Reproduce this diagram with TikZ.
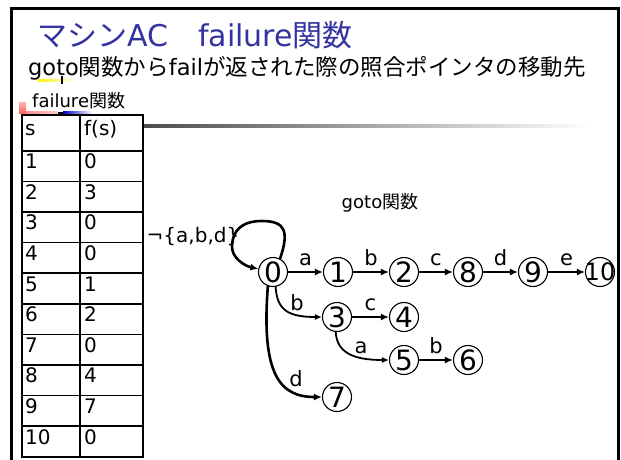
\documentclass[tikz,border=0pt]{standalone}
\usepackage{fontspec}
\setmainfont{DejaVu Sans}
\newfontfamily\jp{Noto Sans CJK JP}
\usetikzlibrary{arrows.meta}
\newcommand\J[1]{{\jp #1}}
\definecolor{titleblue}{RGB}{51,51,160}
\begin{document}
\begin{tikzpicture}[x=1pt,y=-1pt,
  st/.style={circle,draw,line width=1.1pt,minimum size=29pt,inner sep=0pt,font=\fontsize{28}{28}\selectfont},
  thk/.style={line width=2.6pt,-{Latex[length=8pt,width=7pt]}},
  thn/.style={line width=1.8pt,-{Latex[length=7pt,width=6pt]}},
  lbl/.style={font=\fontsize{21}{21}\selectfont,inner sep=0pt},
  cell/.style={anchor=mid west,font=\fontsize{20}{20}\selectfont,inner sep=0pt}]
\useasboundingbox (0,0) rectangle (621,459);
\fill[white] (0,0) rectangle (621,459);
% slide frame
\draw[line width=3pt] (11.5,470) -- (11.5,8.5) -- (618.5,8.5) -- (618.5,470);
% title texts
\node[anchor=base west,text=titleblue,font=\fontsize{30}{30}\selectfont,inner sep=0pt] (title) at (37,46) {\J{マシン}AC\J{　}failure\J{関数}};
\node[anchor=base west,font=\fontsize{22.5}{22.5}\selectfont,inner sep=0pt] (sub) at (28,75) {goto\J{関数から}fail\J{が返された際の照合ポインタの移動先}};
% bullet decorations
\fill[left color=yellow!90!orange,right color=white] (38,79.5) rectangle (75,81.5);
\draw[line width=1.2pt] (62,76) -- (62,84);
\fill[top color=red!30,bottom color=red!60!white] (19,102) rectangle (26,113);
\fill[left color=red!45,right color=white!80!red] (26,111.5) rectangle (58,114);
\fill[black] (58,111.5) rectangle (63,114);
\fill[left color=blue!80!black,right color=white] (63,111.5) rectangle (92,114);
\node[anchor=base west,font=\fontsize{18}{18}\selectfont,inner sep=0pt] (fl) at (32,107) {failure\J{関数}};
% gradient rule
\fill[left color=black!70,right color=white] (143,124.5) rectangle (590,127.5);
% table
\draw[line width=2pt] (22,115) rectangle (143.3,457);
\draw[line width=2pt] (80.3,115) -- (80.3,457);
\foreach \i in {0,...,9} {\draw[line width=1.6pt] (22,{150.7+30.6*\i}) -- (143.3,{150.7+30.6*\i});}
\node[cell] (hs) at (25,133) {s};
\node[cell] (hf) at (84,133) {f(s)};
\foreach \s/\f [count=\k] in {1/0,2/3,3/0,4/0,5/1,6/2,7/0,8/4,9/7,10/0} {
  \node[cell] (s\k) at (25,{150.7+30.6*(\k-0.5)}) {\s};
  \node[cell] (f\k) at (84,{150.7+30.6*(\k-0.5)}) {\f};
}
% goto label
\node[font=\fontsize{18}{18}\selectfont,inner sep=0pt] (gl) at (380,203) {goto\J{関数}};
\node[font=\fontsize{20}{20}\selectfont,inner sep=0pt] (neg) at (193,237) {¬\{a,b,d\}};
% states
\node[st] (n0) at (273,272) {0};
\node[st] (n1) at (338,272) {1};
\node[st] (n2) at (404,272) {2};
\node[st] (n8) at (468,272) {8};
\node[st] (n9) at (533,272) {9};
\node[st,label={[font=\fontsize{24}{24}\selectfont,inner sep=0pt]center:10}] (n10) at (600,272) {};
\node[st] (n3) at (337,317) {3};
\node[st] (n4) at (404,317) {4};
\node[st] (n5) at (404,360) {5};
\node[st] (n6) at (468,360) {6};
\node[st] (n7) at (337,397) {7};
% edges
\draw[thk] (n0) -- (n1) node[lbl,midway,above=5pt] {a};
\draw[thk] (n1) -- (n2) node[lbl,midway,above=5pt] {b};
\draw[thk] (n2) -- (n8) node[lbl,midway,above=5pt] {c};
\draw[thk] (n8) -- (n9) node[lbl,midway,above=5pt] {d};
\draw[thk] (n9) -- (n10) node[lbl,midway,above=5pt] {e};
\draw[thk] (n3) -- (n4) node[lbl,midway,above=5pt] {c};
\draw[thk] (n5) -- (n6) node[lbl,midway,above=5pt] {b};
\draw[thn] (n0.-80) .. controls (277,310) and (288,317) .. (n3.west);
\node[lbl] (lb03) at (297,303) {b};
\draw[thn] (n3.-95) .. controls (337,352) and (352,360) .. (n5.west);
\node[lbl] (la35) at (361,348) {a};
\draw[thk] (n0.-110) .. controls (261,375) and (280,397) .. (n7.west);
\node[lbl] (ld07) at (296,379) {d};
\draw[thk] (n0.62) .. controls (289,232) and (286,221) .. (262,221) .. controls (240,221) and (233,232) .. (232,245) .. controls (231,258) and (245,266) .. (n0.168);
\end{tikzpicture}
\end{document}
